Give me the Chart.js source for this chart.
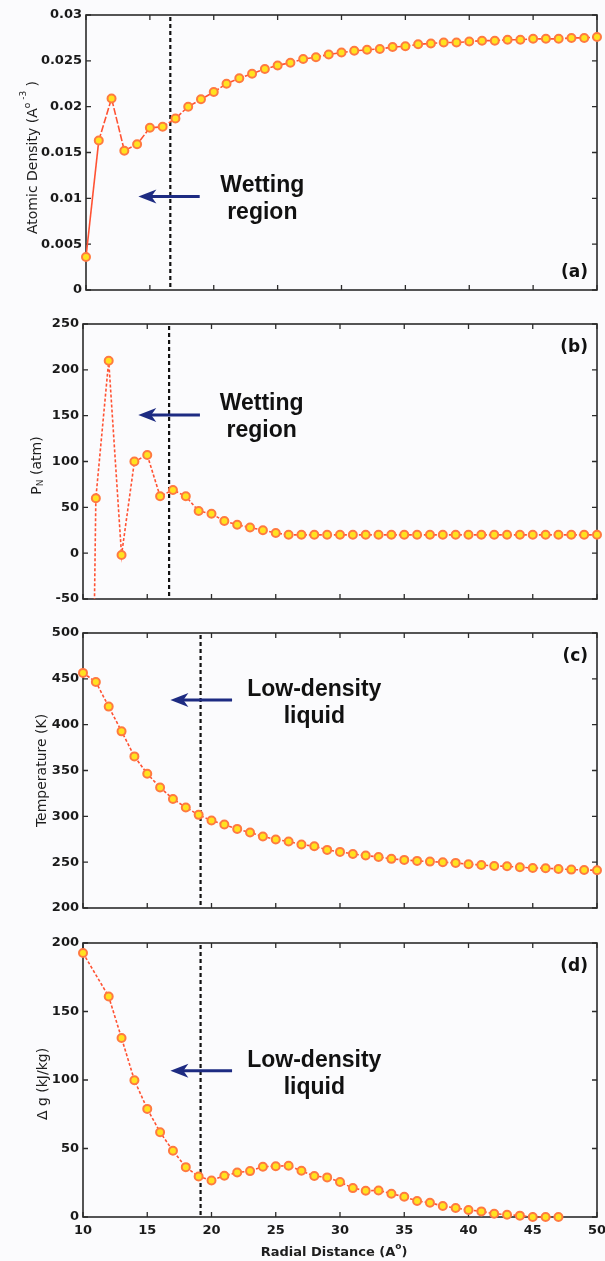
<!DOCTYPE html>
<html>
<head>
<meta charset="utf-8">
<script src="https://cdn.jsdelivr.net/npm/chart.js@4.4.1/dist/chart.umd.min.js"></script>
<style>
  body { margin: 0; background: #fbfbfd; }
  canvas { position: absolute; left: 0; }
</style>
</head>
<body>
<canvas id="panelA" width="605" height="300" style="top:0px"></canvas>
<canvas id="panelB" width="605" height="310" style="top:300px"></canvas>
<canvas id="panelC" width="605" height="310" style="top:610px"></canvas>
<canvas id="panelD" width="605" height="341" style="top:920px"></canvas>
<script>
// radial distance (Angstrom) shared by all four profiles
const radius = [10, 11, 12, 13, 14, 15, 16, 17, 18, 19, 20, 21, 22, 23, 24, 25, 26, 27, 28, 29,
    30, 31, 32, 33, 34, 35, 36, 37, 38, 39, 40, 41, 42, 43, 44, 45, 46, 47, 48, 49, 50];
const xTicks = [10, 15, 20, 25, 30, 35, 40, 45, 50];

const density = [0.0036, 0.0163, 0.0209, 0.0152, 0.0159, 0.0177, 0.0178, 0.0187, 0.0200, 0.0208,
    0.0216, 0.0225, 0.0231, 0.0236, 0.0241, 0.0245, 0.0248, 0.0252, 0.0254, 0.0257,
    0.0259, 0.0261, 0.0262, 0.0263, 0.0265, 0.0266, 0.0268, 0.0269, 0.0270, 0.0270,
    0.0271, 0.0272, 0.0272, 0.0273, 0.0273, 0.0274, 0.0274, 0.0274, 0.0275, 0.0275, 0.0276];

const pressure = [-985, 60, 210, -2, 100, 107, 62, 69, 62, 46,
    43, 35, 31, 28, 25, 22, 20, 20, 20, 20,
    20, 20, 20, 20, 20, 20, 20, 20, 20, 20,
    20, 20, 20, 20, 20, 20, 20, 20, 20, 20, 20];

const temperature = [456.5, 446.6, 419.7, 392.7, 365.4, 346.4, 331.5, 319, 309.7, 301.6,
    295.4, 291, 286.3, 282.3, 278, 274.7, 272.5, 269.2, 267.4, 263.4,
    261.2, 259, 257.2, 255.7, 253.6, 252.5, 251.4, 250.6, 249.9, 249.2,
    247.7, 247, 245.9, 245.5, 244.4, 243.7, 243.4, 242.6, 241.9, 241.5, 241.2];

const freeEnergy = [192.7, null, 160.9, 130.6, 99.8, 78.9, 61.9, 48.3, 36.4, 29.6,
    26.7, 30.1, 32.5, 33.5, 36.7, 37.1, 37.4, 33.7, 29.9, 28.9,
    25.5, 21.1, 19.2, 19.4, 17, 14.8, 11.7, 10.4, 8, 6.6,
    5.1, 4.1, 2.4, 1.7, 1, 0, 0, 0, null, null, null];

const densityTicks = [0, 0.005, 0.01, 0.015, 0.02, 0.025, 0.03];
const pressureTicks = [-50, 0, 50, 100, 150, 200, 250];
const temperatureTicks = [200, 250, 300, 350, 400, 450, 500];
const energyTicks = [0, 50, 100, 150, 200];

const TICK_FONT = { family: 'DejaVu Sans', size: 13, weight: 'bold' };
const TITLE_FONT = '14px "DejaVu Sans"';
const SMALL_FONT = '9px "DejaVu Sans"';
const NOTE_FONT = 'bold 23px "Liberation Sans"';

function drawRich(ctx, parts, x, y, rotate) {
    ctx.save();
    ctx.translate(x, y);
    if (rotate) ctx.rotate(-Math.PI / 2);
    let total = 0;
    parts.forEach(p => { ctx.font = p.font; total += ctx.measureText(p.text).width; });
    let cx = -total / 2;
    ctx.textBaseline = 'middle';
    ctx.fillStyle = '#1e1e1e';
    parts.forEach(p => {
        ctx.font = p.font;
        ctx.fillText(p.text, cx, p.dy || 0);
        cx += ctx.measureText(p.text).width;
    });
    ctx.restore();
}

function drawArrow(ctx, xTail, y, xTip) {
    ctx.save();
    ctx.strokeStyle = ctx.fillStyle = '#1d2b82';
    ctx.lineWidth = 3;
    ctx.beginPath();
    ctx.moveTo(xTail, y);
    ctx.lineTo(xTip + 12, y);
    ctx.stroke();
    ctx.beginPath();
    ctx.moveTo(xTip, y);
    ctx.lineTo(xTip + 18, y - 7);
    ctx.lineTo(xTip + 13, y);
    ctx.lineTo(xTip + 18, y + 7);
    ctx.closePath();
    ctx.fill();
    ctx.restore();
}

// frame, inward ticks, marker line, arrow and notes for one panel
const panelDecor = {
    id: 'panelDecor',
    beforeDatasetsDraw(chart, args, o) {
        const { ctx, chartArea: a, scales: { x, y } } = chart;
        ctx.save();
        ctx.strokeStyle = '#2b2b2b';
        ctx.lineWidth = 1.3;
        ctx.beginPath();
        x.ticks.forEach(t => {
            const px = x.getPixelForValue(t.value);
            ctx.moveTo(px, a.top); ctx.lineTo(px, a.top + 5);
            ctx.moveTo(px, a.bottom); ctx.lineTo(px, a.bottom - 5);
        });
        y.ticks.forEach(t => {
            const py = y.getPixelForValue(t.value);
            ctx.moveTo(a.left, py); ctx.lineTo(a.left + 5, py);
            ctx.moveTo(a.right, py); ctx.lineTo(a.right - 5, py);
        });
        ctx.stroke();
        ctx.lineWidth = 1.6;
        ctx.strokeRect(a.left, a.top, a.right - a.left, a.bottom - a.top);

        // boundary of the region
        const vx = x.getPixelForValue(o.boundary);
        ctx.strokeStyle = '#111';
        ctx.lineWidth = 2.2;
        ctx.setLineDash([4, 3]);
        ctx.beginPath();
        ctx.moveTo(vx, a.top + 2);
        ctx.lineTo(vx, a.bottom - 2);
        ctx.stroke();
        ctx.restore();
    },
    afterDraw(chart, args, o) {
        const { ctx, chartArea: a, scales: { x, y } } = chart;
        drawArrow(ctx, x.getPixelForValue(o.arrow.from), y.getPixelForValue(o.arrow.y), x.getPixelForValue(o.arrow.to));

        ctx.save();
        ctx.font = NOTE_FONT;
        ctx.fillStyle = '#111';
        ctx.textAlign = 'center';
        ctx.textBaseline = 'alphabetic';
        const nx = x.getPixelForValue(o.note.x);
        const ny = y.getPixelForValue(o.note.y);
        o.note.lines.forEach((line, i) => ctx.fillText(line, nx, ny + i * 27));

        ctx.font = 'bold 17px "DejaVu Sans"';
        ctx.textAlign = 'right';
        const ly = o.tagAtBottom ? a.bottom - 13 : a.top + 28;
        ctx.fillText(o.tag, a.right - 9, ly);
        ctx.restore();

        drawRich(ctx, o.yTitle, o.yTitleX, (a.top + a.bottom) / 2 + (o.yTitleShift || 0), true);
        if (o.xTitle) drawRich(ctx, o.xTitle, (a.left + a.right) / 2 - 6, a.bottom + 36, false);
    }
};

function makePanel(canvasId, values, p) {
    new Chart(canvasId, {
        type: 'line',
        data: {
            datasets: [{
                data: radius.map((r, i) => ({ x: r, y: values[i] })),
                borderColor: '#ff5233',
                borderWidth: 1.6,
                borderDash: p.dash,
                segment: p.solidFirst ? { borderDash: c => (c.p0DataIndex === 0 ? [] : undefined) } : {},
                pointRadius: 4,
                pointBorderWidth: 2,
                pointBackgroundColor: '#ffe21f',
                pointBorderColor: '#ff7a40',
                spanGaps: true,
                clip: p.clip
            }]
        },
        options: {
            responsive: false,
            animation: false,
            layout: { padding: { top: p.padTop, right: 8, bottom: 0, left: 0 } },
            plugins: {
                legend: { display: false },
                tooltip: { enabled: false },
                panelDecor: p.decor
            },
            scales: {
                x: {
                    type: 'linear',
                    min: 10,
                    max: 50,
                    afterBuildTicks: s => { s.ticks = xTicks.map(v => ({ value: v })); },
                    grid: { display: false, drawTicks: false },
                    border: { display: false },
                    ticks: { display: p.showX, font: TICK_FONT, color: '#1a1a1a', padding: 6, autoSkip: false, maxRotation: 0 },
                    afterFit: s => { s.height = p.xHeight; s.paddingLeft = 0; s.paddingRight = 0; }
                },
                y: {
                    min: p.yTicks[0],
                    max: p.yTicks[p.yTicks.length - 1],
                    afterBuildTicks: s => { s.ticks = p.yTicks.map(v => ({ value: v })); },
                    grid: { display: false, drawTicks: false },
                    border: { display: false },
                    ticks: { font: TICK_FONT, color: '#1a1a1a', padding: 4, callback: v => String(+v.toFixed(4)) },
                    afterFit: s => { s.width = p.left; s.paddingTop = 0; s.paddingBottom = 0; }
                }
            }
        },
        plugins: [panelDecor]
    });
}

makePanel('panelA', density, {
    yTicks: densityTicks, left: 86, padTop: 15, xHeight: 10, showX: false,
    dash: [7, 2], solidFirst: true, clip: { left: 8, top: 8, right: 8, bottom: 8 },
    decor: {
        boundary: 16.6,
        arrow: { from: 18.9, to: 14.1, y: 0.0102 },
        note: { x: 23.8, y: 0.0107, lines: ['Wetting', 'region'] },
        tag: '(a)', tagAtBottom: true,
        yTitleX: 33, yTitleShift: 5,
        yTitle: [
            { text: 'Atomic Density (A', font: TITLE_FONT },
            { text: 'o', font: SMALL_FONT, dy: -5 },
            { text: ' -3', font: SMALL_FONT, dy: -9 },
            { text: ' )', font: TITLE_FONT }
        ]
    }
});

makePanel('panelB', pressure, {
    yTicks: pressureTicks, left: 83, padTop: 24, xHeight: 11, showX: false,
    dash: [3, 2], clip: { left: 8, top: 8, right: 8, bottom: 0 },
    decor: {
        boundary: 16.7,
        arrow: { from: 19.1, to: 14.3, y: 150.7 },
        note: { x: 23.9, y: 156, lines: ['Wetting', 'region'] },
        tag: '(b)',
        yTitleX: 37, yTitleShift: 4,
        yTitle: [
            { text: 'P', font: TITLE_FONT },
            { text: 'N', font: SMALL_FONT, dy: 4 },
            { text: ' (atm)', font: TITLE_FONT }
        ]
    }
});

makePanel('panelC', temperature, {
    yTicks: temperatureTicks, left: 83, padTop: 23, xHeight: 12, showX: false,
    dash: [3, 2], clip: { left: 8, top: 8, right: 8, bottom: 8 },
    decor: {
        boundary: 19.15,
        arrow: { from: 21.6, to: 16.8, y: 427 },
        note: { x: 28.0, y: 431, lines: ['Low-density', 'liquid'] },
        tag: '(c)',
        yTitleX: 42,
        yTitle: [{ text: 'Temperature (K)', font: TITLE_FONT }]
    }
});

makePanel('panelD', freeEnergy, {
    yTicks: energyTicks, left: 83, padTop: 23, xHeight: 44, showX: true,
    dash: [3, 2], clip: { left: 8, top: 8, right: 8, bottom: 8 },
    decor: {
        boundary: 19.15,
        arrow: { from: 21.6, to: 16.8, y: 106.8 },
        note: { x: 28.0, y: 109.7, lines: ['Low-density', 'liquid'] },
        tag: '(d)',
        yTitleX: 43, yTitleShift: 4,
        yTitle: [{ text: '\u0394 g (kJ/kg)', font: TITLE_FONT }],
        xTitle: [
            { text: 'Radial Distance (A', font: 'bold 13px "DejaVu Sans"' },
            { text: 'o', font: 'bold 9px "DejaVu Sans"', dy: -6 },
            { text: ')', font: 'bold 13px "DejaVu Sans"' }
        ]
    }
});
</script>
</body>
</html>
